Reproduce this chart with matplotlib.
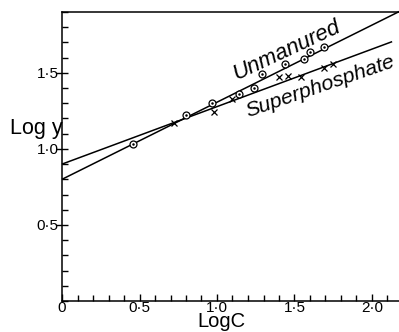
import matplotlib
matplotlib.use("Agg")
import matplotlib.pyplot as plt
from matplotlib.ticker import MultipleLocator, FixedLocator, FixedFormatter

# Observations: log concentration vs log yield
unmanured_logc = [0.46, 0.80, 0.97, 1.14, 1.24, 1.29, 1.44, 1.56, 1.60, 1.69]
unmanured_logy = [1.03, 1.22, 1.30, 1.36, 1.40, 1.49, 1.56, 1.59, 1.64, 1.67]
super_logc = [0.72, 0.98, 1.10, 1.40, 1.46, 1.54, 1.69, 1.75]
super_logy = [1.17, 1.24, 1.33, 1.47, 1.48, 1.47, 1.53, 1.56]

# Fitted straight lines (intercept, slope) and their extent
unmanured_fit = (0.80, 0.507)
super_fit = (0.90, 0.378)
unmanured_span = (0.0, 2.18)
super_span = (0.0, 2.13)

x_ticks = [0, 0.5, 1.0, 1.5, 2.0]
x_labels = ["0", "0·5", "1·0", "1·5", "2·0"]
y_ticks = [0.5, 1.0, 1.5]
y_labels = ["0·5", "1·0", "1·5"]

label_font = ["Liberation Sans", "DejaVu Sans"]

fig = plt.figure(figsize=(3.99, 3.32), dpi=100)
ax = fig.add_axes([62 / 399, 31 / 332, 337 / 399, 289 / 332])
ax.set_xlim(0, 337 / 155)
ax.set_ylim(0, 1.90)

for (b, m), (x0, x1) in [(unmanured_fit, unmanured_span), (super_fit, super_span)]:
    ax.plot([x0, x1], [b + m * x0, b + m * x1], color="black", lw=1.1,
            solid_capstyle="butt", clip_on=False, zorder=2)

ax.plot(unmanured_logc, unmanured_logy, "o", ms=5, mfc="white", mec="black",
        mew=0.9, zorder=3)
ax.plot(unmanured_logc, unmanured_logy, ".", ms=1.6, color="black", zorder=4)
ax.plot(super_logc, super_logy, "x", ms=5, mec="black", mew=0.9, zorder=3)

ax.text(1.125, 1.455, "Unmanured", rotation=25, rotation_mode="anchor",
        ha="left", va="baseline", fontsize=16, style="italic",
        family=label_font)
ax.text(1.20, 1.205, "Superphosphate", rotation=19, rotation_mode="anchor",
        ha="left", va="baseline", fontsize=15.3, style="italic",
        family=label_font, clip_on=False)

ax.spines["right"].set_visible(False)
for s in ["left", "bottom", "top"]:
    ax.spines[s].set_linewidth(1.1)

ax.xaxis.set_major_locator(FixedLocator(x_ticks))
ax.xaxis.set_major_formatter(FixedFormatter(x_labels))
ax.yaxis.set_major_locator(FixedLocator(y_ticks))
ax.yaxis.set_major_formatter(FixedFormatter(y_labels))
ax.xaxis.set_minor_locator(MultipleLocator(0.1))
ax.yaxis.set_minor_locator(MultipleLocator(0.1))
ax.tick_params(which="both", direction="in", top=False, right=False, width=1.0)
ax.tick_params(axis="x", which="major", length=5, pad=0)
ax.tick_params(axis="y", which="major", direction="inout", length=9, pad=-2)
ax.tick_params(which="minor", length=4.5)
for lab in ax.get_xticklabels() + ax.get_yticklabels():
    lab.set_family(label_font)
    lab.set_fontsize(11)

ax.text(-0.335, 1.10, "Log y", fontsize=15.5, family=label_font,
        ha="left", va="baseline", clip_on=False)
ax.text(0.871, -0.172, "LogC", fontsize=14.5, family=label_font,
        ha="left", va="baseline", clip_on=False)

fig.savefig("out.png", dpi=100)
